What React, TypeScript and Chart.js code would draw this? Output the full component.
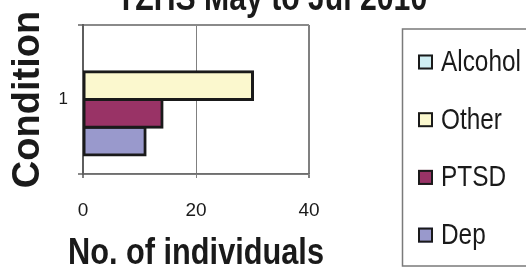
import React, { useEffect, useRef } from "react";
import { Chart, registerables } from "chart.js";

Chart.register(...registerables);

// ---- data ----
const categories = ["1"];
const seriesNames = ["Alcohol", "Other", "PTSD", "Dep"];
const alcoholValues = [0];
const otherValues = [30];
const ptsdValues = [14];
const depValues = [11];
const xTickValues = [0, 20, 40];
const seriesColors = ["#CFEEF3", "#FBF8CE", "#993366", "#9999CC"];
const chartTitle = "TZHS May to Jul 2010";
const xAxisTitle = "No. of individuals";
const yAxisTitle = "Condition";

const SANS = "'Liberation Sans', Arial, sans-serif";
const INK = "#1a1a1a";

// draws text horizontally condensed (the reference uses a narrow face)
function condensedText(
  ctx: CanvasRenderingContext2D,
  text: string,
  x: number,
  y: number,
  font: string,
  factor: number,
  align: CanvasTextAlign,
  baseline: CanvasTextBaseline
) {
  ctx.save();
  ctx.font = font;
  ctx.fillStyle = INK;
  ctx.textAlign = align;
  ctx.textBaseline = baseline;
  ctx.translate(x, y);
  ctx.scale(factor, 1);
  ctx.fillText(text, 0, 0);
  ctx.restore();
}

const decorations = {
  id: "decorations",
  afterDraw(chart: any) {
    const ctx = chart.ctx as CanvasRenderingContext2D;
    const ca = chart.chartArea;
    // chart title (partly above the visible frame, as in the reference)
    condensedText(ctx, chart.options.plugins.decorations.title, 272, 40, `bold 37px ${SANS}`, 0.816, "center", "alphabetic");
    // x axis title
    condensedText(ctx, chart.options.plugins.decorations.xTitle, (ca.left + ca.right) / 2, 294, `bold 37px ${SANS}`, 0.83, "center", "alphabetic");

    // legend frame
    ctx.save();
    ctx.strokeStyle = "#7a7a7a";
    ctx.lineWidth = 1.5;
    ctx.strokeRect(402.5, 59, 140, 237);
    ctx.restore();
    const first = 92;
    const step = 57.7;
    chart.data.datasets.forEach((ds: any, i: number) => {
      const cy = first + i * step;
      ctx.save();
      ctx.fillStyle = ds.backgroundColor;
      ctx.fillRect(418, cy - 7.5, 15, 15);
      ctx.strokeStyle = INK;
      ctx.lineWidth = 2;
      ctx.strokeRect(419, cy - 6.5, 13, 13);
      ctx.restore();
      condensedText(ctx, ds.label, 441, cy + 1, `29px ${SANS}`, 0.84, "left", "middle");
    });
  },
};

export default function App() {
  const ref = useRef<HTMLCanvasElement | null>(null);

  useEffect(() => {
    if (!ref.current) return;
    const valueSets = [alcoholValues, otherValues, ptsdValues, depValues];
    const chart = new Chart(ref.current, {
      type: "bar",
      data: {
        labels: categories,
        datasets: seriesNames.map((name, i) => ({
          label: name,
          data: valueSets[i],
          backgroundColor: seriesColors[i],
          borderColor: INK,
          borderWidth: 3,
          borderSkipped: false,
          inflateAmount: 1.5,
          categoryPercentage: 0.745,
          barPercentage: 1,
        })),
      },
      plugins: [decorations],
      options: {
        indexAxis: "y",
        responsive: false,
        animation: false,
        layout: { padding: { left: 0, right: 0, top: 55, bottom: 0 } },
        plugins: {
          legend: { display: false },
          tooltip: { enabled: false },
          title: { display: false },
          decorations: { title: chartTitle, xTitle: xAxisTitle },
        },
        scales: {
          x: {
            type: "linear",
            position: "bottom",
            min: 0,
            max: 40,
            afterBuildTicks: (scale: any) => {
              scale.ticks = xTickValues.map((v) => ({ value: v }));
            },
            afterFit: (scale: any) => {
              scale.height = 96;
            },
            ticks: {
              color: INK,
              font: { family: SANS, size: 19 },
              padding: 21.5,
            },
            grid: {
              color: "#808080",
              lineWidth: (c: any) => (c.tick && c.tick.value === 20 ? 1 : 2),
              tickLength: 4,
            },
            border: { display: true, color: "#6e6e6e", width: 1.5 },
            title: { display: false },
          },
          y: {
            type: "category",
            position: "left",
            offset: true,
            afterFit: (scale: any) => {
              scale.width = 83;
            },
            ticks: {
              color: INK,
              font: { family: SANS, size: 17 },
              padding: 10,
            },
            grid: {
              offset: true,
              color: "#8a8a8a",
              lineWidth: 2,
              tickLength: 5,
              drawOnChartArea: true,
            },
            border: { display: true, color: "#5e5e5e", width: 2 },
            title: {
              display: true,
              text: yAxisTitle,
              color: INK,
              font: { family: SANS, size: 38, weight: "bold", lineHeight: 1.2 },
              padding: { top: 5.7, bottom: 0 },
            },
          },
          spacer: {
            type: "linear",
            position: "right",
            display: true,
            afterFit: (scale: any) => {
              scale.width = 217;
            },
            ticks: { display: false },
            grid: { display: false, drawTicks: false },
            border: { display: false },
            title: { display: false },
          },
        },
      } as any,
    });
    return () => chart.destroy();
  }, []);

  return (
    <div style={{ position: "absolute", left: 0, top: -30, width: 526, height: 300 }}>
      <canvas ref={ref} width={526} height={300} style={{ width: 526, height: 300 }} />
    </div>
  );
}
